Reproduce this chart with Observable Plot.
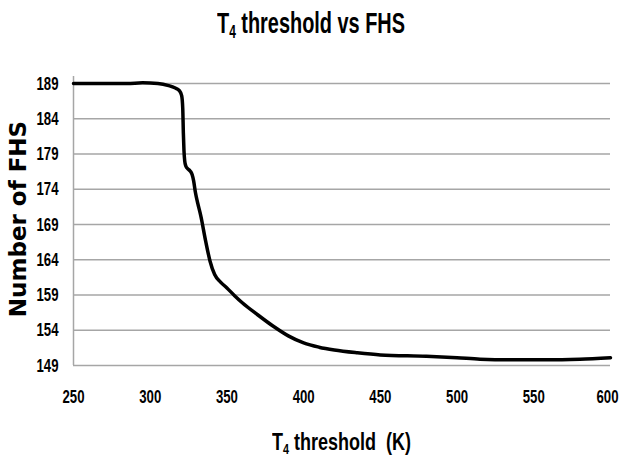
<!DOCTYPE html>
<html>
<head>
<meta charset="utf-8">
<script src="https://cdn.jsdelivr.net/npm/d3@7"></script>
<script src="https://cdn.jsdelivr.net/npm/@observablehq/plot@0.6"></script>
<style>
  html, body { margin: 0; padding: 0; background: #fff; }
  #wrap { position: relative; width: 622px; height: 458px; overflow: hidden; }
  .lab { position: absolute; font-family: "Liberation Sans", Arial, sans-serif; font-weight: bold; color: #000; line-height: 1; white-space: nowrap; transform-origin: 0 0; }
  #title { font-size: 30px; top: 8px; }
  #xlabel { font-size: 24px; top: 430px; }
  #ylabel { position: absolute; left: 18px; top: 219px; transform: translate(-50%, -50%) rotate(-90deg); white-space: nowrap;
            font-family: "DejaVu Sans", Verdana, sans-serif; font-weight: bold; font-size: 23px; color: #000; }
  sub { font-size: 0.6em; vertical-align: -0.3em; line-height: 0; }
</style>
</head>
<body>
<div id="wrap">
  <div id="chart"></div>
  <div id="title" class="lab">T<sub>4</sub> threshold vs FHS</div>
  <div id="xlabel" class="lab">T<sub>4</sub> threshold&nbsp; (K)</div>
  <div id="ylabel">Number of FHS</div>
</div>
<script>
const xTicks = [250, 300, 350, 400, 450, 500, 550, 600];
const yTicks = [149, 154, 159, 164, 169, 174, 179, 184, 189];

const threshold = [250, 270, 285, 295, 305, 312, 316, 319, 320.5, 321.2, 321.6, 322, 322.5, 323.2, 324.5, 326, 327.3, 328.3, 329.5, 331, 333, 336, 339, 342, 346, 350, 355, 360, 370, 380, 390, 400, 410, 420, 435, 450, 480, 500, 515, 540, 560, 580, 600];
const fhs       = [189, 189, 189, 189.1, 189, 188.7, 188.4, 188, 187.3, 185.5, 182, 179.5, 178, 177.3, 176.9, 176.6, 176.1, 175.2, 173.5, 172, 170.2, 166.8, 163.8, 161.9, 160.8, 160, 158.9, 157.9, 156.2, 154.6, 153.2, 152.2, 151.6, 151.2, 150.8, 150.5, 150.3, 150.1, 149.9, 149.8, 149.8, 149.9, 150.1];

const data = threshold.map((t, i) => ({t, v: fhs[i]}));

const chart = Plot.plot({
  width: 622,
  height: 458,
  marginTop: 76,
  marginBottom: 93,
  marginLeft: 73,
  marginRight: 12,
  style: { background: "transparent", fontFamily: '"Liberation Sans", Arial, sans-serif', fontSize: "19px", fontWeight: "bold", color: "#000" },
  x: { domain: [250, 600], ticks: xTicks, tickSize: 0, tickPadding: 24, label: null, tickFormat: d => String(d) },
  y: { domain: [149, 190], ticks: yTicks, tickSize: 0, tickPadding: 15, label: null, tickFormat: d => String(d) },
  marks: [
    Plot.ruleY(yTicks, { stroke: "#a6a6a6", strokeWidth: 1.5 }),
    Plot.ruleX([250], { stroke: "#a6a6a6", strokeWidth: 1.5 }),
    Plot.line(data, { x: "t", y: "v", stroke: "#000", strokeWidth: 3.5, curve: "monotone-x" })
  ]
});
chart.style.position = "absolute";
chart.style.left = "0";
chart.style.top = "0";
document.getElementById("chart").appendChild(chart);

// condense tick labels like the reference's narrow bold face
chart.querySelectorAll('g[aria-label$="tick label"] text').forEach(t => {
  t.setAttribute("textLength", "22");
  t.setAttribute("lengthAdjust", "spacingAndGlyphs");
});
// keep the last x label inside the page
const xl = chart.querySelectorAll('g[aria-label="x-axis tick label"] text');
if (xl.length) {
  const last = xl[xl.length - 1];
  last.setAttribute("text-anchor", "end");
  last.setAttribute("dx", "8");
}

// condense and place the title (centered on the page) and x label (centered on the plot)
function fit(id, width, center) {
  const el = document.getElementById(id);
  const w = el.getBoundingClientRect().width;
  const s = width / w;
  el.style.left = (center - width / 2) + "px";
  el.style.transform = "scaleX(" + s + ")";
}
fit("title", 188, 311);
fit("xlabel", 139, 341);
</script>
</body>
</html>
